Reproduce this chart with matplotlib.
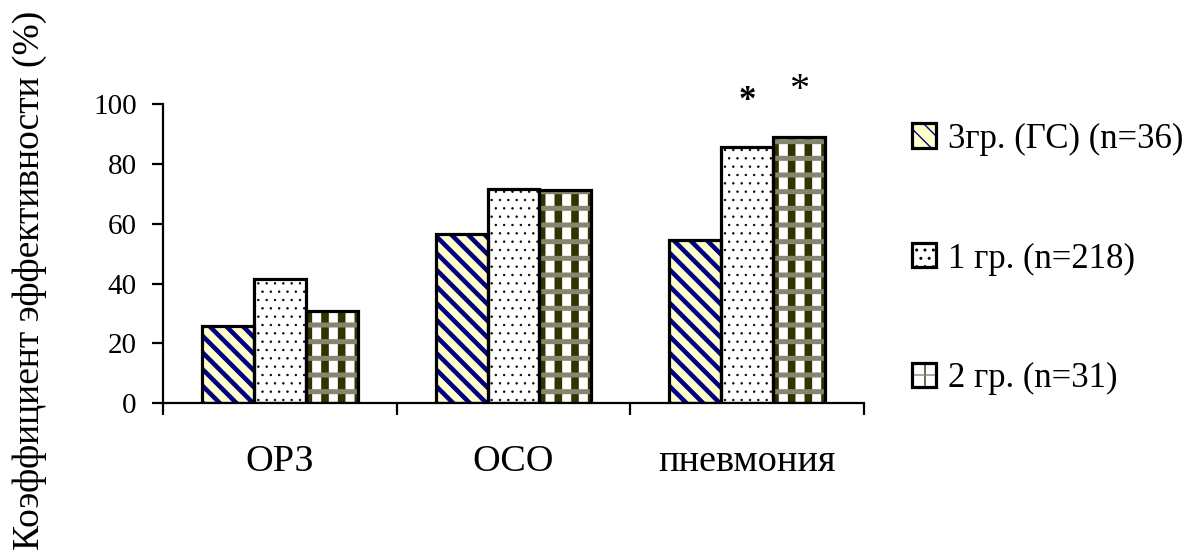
import matplotlib
matplotlib.use("Agg")
import matplotlib.pyplot as plt
import numpy as np

plt.rcParams['font.family'] = ['Liberation Serif', 'DejaVu Serif']

categories = ['ОРЗ', 'ОСО', 'пневмония']
labels = ['3гр. (ГС) (n=36)', '1 гр. (n=218)', '2 гр. (n=31)']
g3 = [25.8, 56.4, 54.7]
g1 = [41.6, 71.7, 85.6]
g2 = [30.8, 71.3, 88.9]
# significance marks: (category index, series index, bold?)
stars = [(2, 1, True), (2, 2, False)]

x = np.arange(len(categories))
w = 0.2225
series = [g3, g1, g2]
offsets = [-w, 0, w]


def hatched_bar(ax, xs, vals, hatch_lw, **kw):
    with plt.rc_context({'hatch.linewidth': hatch_lw}):
        bars = ax.bar(xs, vals, w, linewidth=0, zorder=2, **kw)
    for b in bars:
        if hasattr(b, 'set_hatch_linewidth'):
            b.set_hatch_linewidth(hatch_lw)
    return bars


fig = plt.figure(figsize=(12.04, 5.51), dpi=100)
ax = fig.add_axes([163 / 1204, 1 - 403.3 / 551, 701 / 1204, 299.3 / 551])

# 3 гр: yellow with navy diagonal stripes
b3 = hatched_bar(ax, x + offsets[0], g3, 3.3, color='#FFFFCC',
                 edgecolor='#000080', hatch='\\\\')
# 1 гр: white with dots
b1 = hatched_bar(ax, x + offsets[1], g1, 0.5, color='white',
                 edgecolor='black', hatch='..')
# 2 гр: dark olive plaid
b2a = hatched_bar(ax, x + offsets[2], g2, 5.5, color='white',
                  edgecolor='#333300', hatch='|')
b2b = hatched_bar(ax, x + offsets[2], g2, 3.6, fill=False,
                  edgecolor='#858570', hatch='-')

outlines = []
for vals, off in zip(series, offsets):
    o = ax.bar(x + off, vals, w, fill=False, edgecolor='black',
               linewidth=2.3, zorder=3)
    outlines.append(o)

for ci, si, bold in stars:
    ax.text(x[ci] + offsets[si], series[si][ci] + 12.5, '*',
            ha='center', va='baseline',
            fontsize=25 if bold else 29,
            fontweight='bold' if bold else 'normal', clip_on=False)

ax.set_xlim(-0.5, 2.5)
ax.set_ylim(0, 100)
ax.spines['top'].set_visible(False)
ax.spines['right'].set_visible(False)
ax.spines['left'].set_linewidth(1.6)
ax.spines['bottom'].set_linewidth(1.6)

ax.set_yticks(range(0, 101, 20))
ax.tick_params(axis='y', direction='out', length=8, width=1.6,
               labelsize=21, pad=11)
ax.set_xticks([-0.5, 0.5, 1.5, 2.5])
ax.set_xticklabels([])
ax.tick_params(axis='x', which='major', direction='out', length=8.6,
               width=1.6)
ax.set_xticks(x, minor=True)
ax.set_xticklabels(categories, minor=True)
ax.tick_params(axis='x', which='minor', length=0, labelsize=27.5, pad=30)

fig.text(30 / 1204, 1 - 280.5 / 551, 'Коэффициент эффективности (%)',
         rotation=90, ha='center', va='center', fontsize=27)

handles = [(b3[0], outlines[0][0]), (b1[0], outlines[1][0]),
           (b2a[0], b2b[0], outlines[2][0])]
fig.legend(handles, labels, loc='center left',
           bbox_to_anchor=(912 / 1204, 1 - 259 / 551), frameon=False,
           fontsize=25, borderpad=0, borderaxespad=0, handlelength=0.69,
           handleheight=0.69, handletextpad=0.35, labelspacing=2.5)

plt.savefig('out.png', dpi=100)
